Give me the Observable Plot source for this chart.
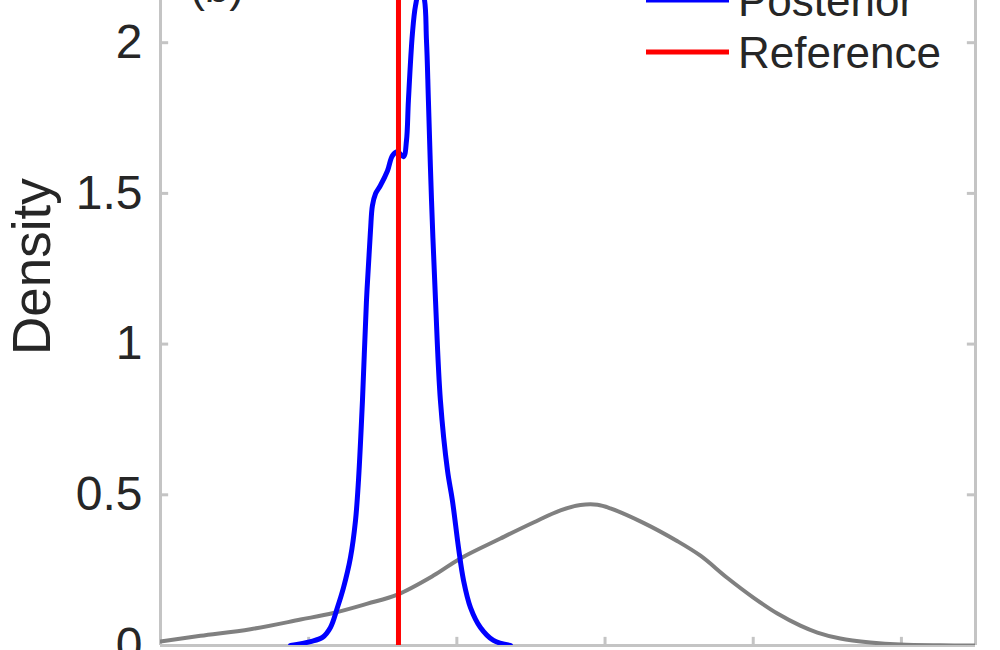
<!DOCTYPE html>
<html><head><meta charset="utf-8">
<script src="https://cdn.jsdelivr.net/npm/d3@7"></script>
<script src="https://cdn.jsdelivr.net/npm/@observablehq/plot@0.6"></script>
<style>
body{margin:0;background:#fff}
#chart{position:relative;width:1000px;height:650px;overflow:hidden;background:#fff}
</style>
</head><body><div id="chart"></div>
<script>
// Prior density (grey)
const priorX = [0, 0.27, 0.607, 0.945, 1.167, 1.397, 1.599, 1.842, 2.024, 2.294, 2.517, 2.699, 2.834, 2.949, 3.036, 3.259, 3.489, 3.644, 3.826, 4.001, 4.163, 4.318, 4.433, 4.588, 4.791, 4.993, 5.263, 5.5];
const priorY = [0.013, 0.032, 0.054, 0.086, 0.108, 0.139, 0.169, 0.232, 0.289, 0.355, 0.408, 0.448, 0.466, 0.467, 0.455, 0.407, 0.346, 0.298, 0.224, 0.159, 0.106, 0.066, 0.043, 0.023, 0.01, 0.003, 0.0005, 0];
// Posterior density (blue)
const postX = [0.877, 1.012, 1.093, 1.147, 1.194, 1.235, 1.282, 1.316, 1.336, 1.363, 1.39, 1.417, 1.43, 1.451, 1.484, 1.532, 1.565, 1.599, 1.64, 1.66, 1.673, 1.7, 1.721, 1.748, 1.775, 1.795, 1.808, 1.829, 1.856, 1.889, 1.937, 1.97, 2.011, 2.045, 2.092, 2.159, 2.247, 2.362];
const postY = [0, 0.013, 0.027, 0.06, 0.126, 0.192, 0.292, 0.415, 0.547, 0.813, 1.144, 1.376, 1.459, 1.499, 1.526, 1.575, 1.625, 1.638, 1.622, 1.675, 1.808, 2.03, 2.123, 2.172, 2.156, 2.007, 1.808, 1.476, 1.144, 0.813, 0.58, 0.481, 0.325, 0.216, 0.126, 0.06, 0.017, 0];
// Reference value (red)
const refX = [1.606];
// Axes
const xDomain = [0, 5.5];
const yDomain = [0, 2.14];
const xTicks = [0, 1, 2, 3, 4, 5];
const yTicks = [0, 0.5, 1, 1.5, 2];
const yLabel = "Density";
const panelLabel = "(b)";
const legendLabels = ["Posterior", "Reference"];
const legendColors = ["#0000ff", "#ff0000"];

const prior = priorX.map((x, i) => ({x, y: priorY[i]}));
const post = postX.map((x, i) => ({x, y: postY[i]}));

const axisGrey = "#c4c4c4";
const font = "'Liberation Sans', Arial, Helvetica, sans-serif";

const plot = Plot.plot({
  width: 1000, height: 650,
  marginLeft: 160, marginRight: 25, marginTop: 0, marginBottom: 5,
  x: {domain: xDomain, axis: null},
  y: {domain: yDomain, axis: null},
  style: {fontFamily: font, background: "white"},
  marks: [
    Plot.axisY(yTicks, {anchor: "left", tickSize: 0, tickPadding: 18, fontSize: 48, fill: "#262626", label: null, tickFormat: d => String(d)}),
    Plot.ruleX([xDomain[0], xDomain[1]], {stroke: axisGrey, strokeWidth: 3}),
    Plot.ruleY([yDomain[0]], {stroke: axisGrey, strokeWidth: 3}),
    Plot.ruleY(yTicks, {y: d => d, x1: xDomain[0], x2: xDomain[0] + 0.055, stroke: axisGrey, strokeWidth: 3}),
    Plot.ruleY(yTicks, {y: d => d, x1: xDomain[1] - 0.055, x2: xDomain[1], stroke: axisGrey, strokeWidth: 3}),
    Plot.ruleX(xTicks, {x: d => d, y1: yDomain[0], y2: yDomain[0] + 0.027, stroke: axisGrey, strokeWidth: 3}),
    Plot.line(prior, {x: "x", y: "y", stroke: "#808080", strokeWidth: 4, curve: "catmull-rom", clip: true}),
    Plot.line(post, {x: "x", y: "y", stroke: "#0000ff", strokeWidth: 5, curve: "catmull-rom", clip: true}),
    Plot.ruleX(refX, {stroke: "#ff0000", strokeWidth: 5}),
    Plot.text([panelLabel], {x: 0.2, y: yDomain[1], dy: 1, text: d => d, textAnchor: "start", lineAnchor: "bottom", fontSize: 44, fill: "#262626"}),
    Plot.text([yLabel], {x: xDomain[0], y: 1.257, dx: -127, text: d => d, rotate: -90, textAnchor: "middle", lineAnchor: "middle", fontSize: 53, fill: "#262626"})
  ]
});
document.getElementById("chart").appendChild(plot);

// Legend (top right, partially cut off as in the reference)
const svg = d3.select(plot);
const lg = svg.append("g").attr("font-family", font).attr("font-size", 44).attr("fill", "#262626").attr("text-anchor", "start");
legendLabels.forEach((lab, i) => {
  const yy = i * 52;
  lg.append("line").attr("x1", 646).attr("x2", 729).attr("y1", yy).attr("y2", yy)
    .attr("stroke", legendColors[i]).attr("stroke-width", 5);
  lg.append("text").attr("x", 738).attr("y", yy + 15.5).attr("text-anchor", "start").text(lab);
});
</script>
</body></html>
